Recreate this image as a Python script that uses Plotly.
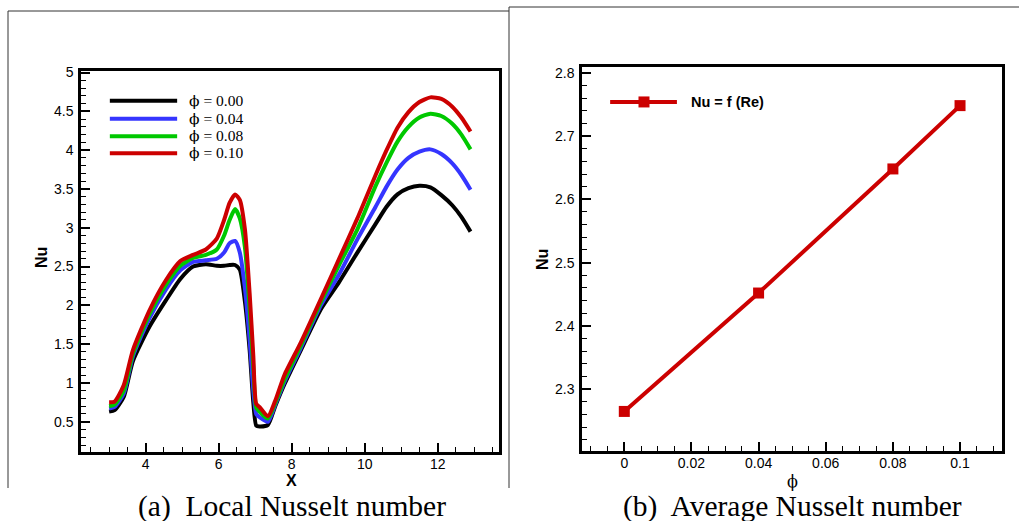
import plotly.graph_objects as go

# local Nusselt number along the wall
x_pos = [3.0, 3.15, 3.4, 3.65, 4.1, 4.55, 4.95, 5.3, 5.65, 5.95, 6.15, 6.3, 6.45, 6.58,
         6.72, 6.85, 6.95, 7.03, 7.12, 7.35, 7.55, 7.8, 8.25, 8.8, 9.3, 9.8,
         10.3, 10.6, 10.9, 11.2, 11.5, 11.8, 12.1, 12.4, 12.65, 12.9]
nu_000 = [0.63, 0.65, 0.82, 1.28, 1.72, 2.06, 2.34, 2.50, 2.53, 2.51, 2.51, 2.52, 2.52, 2.46,
          2.05, 1.42, 0.75, 0.45, 0.44, 0.46, 0.70, 0.98, 1.42, 1.95, 2.30, 2.68,
          3.05, 3.27, 3.43, 3.51, 3.54, 3.52, 3.42, 3.29, 3.14, 2.95]
nu_004 = [0.67, 0.69, 0.86, 1.34, 1.83, 2.20, 2.45, 2.56, 2.58, 2.60, 2.68, 2.80, 2.83, 2.68,
          2.22, 1.55, 0.90, 0.60, 0.56, 0.50, 0.72, 1.01, 1.45, 2.00, 2.40, 2.85,
          3.27, 3.53, 3.75, 3.90, 3.98, 4.01, 3.95, 3.83, 3.68, 3.49]
nu_008 = [0.70, 0.72, 0.90, 1.37, 1.88, 2.26, 2.51, 2.61, 2.65, 2.72, 2.90, 3.10, 3.24, 3.12,
          2.75, 1.95, 1.20, 0.68, 0.63, 0.54, 0.74, 1.04, 1.48, 2.04, 2.52, 2.98,
          3.54, 3.84, 4.11, 4.30, 4.42, 4.47, 4.44, 4.34, 4.20, 4.01]
nu_010 = [0.75, 0.76, 0.97, 1.42, 1.93, 2.32, 2.57, 2.65, 2.72, 2.86, 3.10, 3.32, 3.43, 3.36,
          2.98, 2.15, 1.35, 0.73, 0.69, 0.57, 0.77, 1.10, 1.52, 2.08, 2.60, 3.12,
          3.68, 4.00, 4.29, 4.49, 4.62, 4.68, 4.66, 4.56, 4.42, 4.24]
local_names = ["ϕ = 0.00", "ϕ = 0.04", "ϕ = 0.08", "ϕ = 0.10"]
local_colors = ["#000000", "#3535ff", "#00c800", "#cc0000"]

# average Nusselt number vs volume fraction
phi = [0.0, 0.04, 0.08, 0.1]
nu_avg = [2.265, 2.452, 2.648, 2.748]
avg_name = "Nu = f (Re)"

W, H = 1019, 521
SANS = "Liberation Sans, Arial"
SERIF = "Liberation Serif, Times New Roman"
PHI_FONT = "DejaVu Serif"


def px_x(p):
    return p / W


def px_y(p):
    return (H - p) / H


def phi_text(s):
    # the stroked phi glyph comes from DejaVu, the rest stays in the Times-like face
    return s.replace("ϕ", '<span style="font-family:%s">ϕ</span>' % PHI_FONT)


def create_figure():
    fig = go.Figure()
    fig.update_layout(width=W, height=H, margin=dict(l=0, r=0, t=0, b=0),
                      paper_bgcolor="white", plot_bgcolor="white",
                      showlegend=False, template="none",
                      font=dict(family=SANS, size=14, color="black"))
    axis_style = dict(showline=True, mirror=True, linecolor="black", linewidth=2.5,
                      ticks="inside", ticklen=9, tickwidth=1.5, tickcolor="black",
                      showgrid=False, zeroline=False, automargin=False,
                      tickfont=dict(family=SANS, size=14, color="black"))
    fig.update_layout(
        xaxis=dict(axis_style, domain=[px_x(81), px_x(499)], range=[2.23, 13.68],
                   dtick=2, tick0=0, anchor="y", ticklabelstandoff=-3,
                   minor=dict(ticks="inside", ticklen=5, tickwidth=1, dtick=0.5, tickcolor="black")),
        yaxis=dict(axis_style, domain=[px_y(452), px_y(71)], range=[0.11, 5.02],
                   dtick=0.5, tick0=0, anchor="x", ticklabelstandoff=2,
                   minor=dict(ticks="inside", ticklen=5, tickwidth=1, dtick=0.1, tickcolor="black")),
        xaxis2=dict(axis_style, domain=[px_x(582), px_x(1002)], range=[-0.0126, 0.1125],
                    dtick=0.02, tick0=0, anchor="y2", ticklabelstandoff=-3,
                    minor=dict(ticks="inside", ticklen=5, tickwidth=1, dtick=0.005, tickcolor="black")),
        yaxis2=dict(axis_style, domain=[px_y(451), px_y(67)], range=[2.2025, 2.809],
                    dtick=0.1, tick0=0, anchor="x2", ticklabelstandoff=2,
                    minor=dict(ticks="inside", ticklen=5, tickwidth=1, dtick=0.02, tickcolor="black")),
    )
    return fig


def plot_local(fig):
    for ys, name, col in zip([nu_000, nu_004, nu_008, nu_010], local_names, local_colors):
        fig.add_trace(go.Scatter(x=x_pos, y=ys, name=name, mode="lines",
                                 line=dict(color=col, width=4, shape="spline", smoothing=0.6),
                                 xaxis="x", yaxis="y"))
    # legend drawn by hand to get the long line samples
    ys_leg = [0.922, 0.875, 0.829, 0.784]
    for yl, name, col in zip(ys_leg, local_names, local_colors):
        fig.add_shape(type="line", xref="x domain", yref="y domain",
                      x0=0.069, x1=0.230, y0=yl, y1=yl, line=dict(color=col, width=4))
        fig.add_annotation(xref="x domain", yref="y domain", x=0.254, y=yl, text=phi_text(name),
                           showarrow=False, xanchor="left", yanchor="middle",
                           font=dict(family=SERIF, size=15.5, color="black"))


def plot_avg(fig):
    fig.add_trace(go.Scatter(x=phi, y=nu_avg, name=avg_name, mode="lines+markers",
                             line=dict(color="#cc0000", width=4),
                             marker=dict(symbol="square", size=11, color="#cc0000"),
                             xaxis="x2", yaxis="y2"))
    fig.add_shape(type="line", xref="x2 domain", yref="y2 domain",
                  x0=0.067, x1=0.226, y0=0.909, y1=0.909, line=dict(color="#cc0000", width=4))
    fig.add_shape(type="rect", xref="x2 domain", yref="y2 domain",
                  xsizemode="pixel", ysizemode="pixel", xanchor=0.1476, yanchor=0.909,
                  x0=-5.5, x1=5.5, y0=-5.5, y1=5.5,
                  fillcolor="#cc0000", line=dict(width=0))
    fig.add_annotation(xref="x2 domain", yref="y2 domain", x=0.2548, y=0.909,
                       text="<b>" + avg_name + "</b>", showarrow=False,
                       xanchor="left", yanchor="middle",
                       font=dict(family=SANS, size=14.5, color="black"))


def label(fig, x, y, text, font, angle=0):
    fig.add_annotation(xref="paper", yref="paper", x=px_x(x), y=px_y(y), text=text,
                       textangle=angle, showarrow=False, xanchor="center", yanchor="middle",
                       font=font)


def touch_up(fig):
    # frames around the two sub-figures
    frame = dict(color="#333333", width=1)
    for x0, y0, x1, y1 in [(8, 11, 509, 11), (8, 11, 8, 488), (509, 7, 509, 488), (509, 7, 1019, 7)]:
        fig.add_shape(type="line", xref="paper", yref="paper",
                      x0=px_x(x0), y0=px_y(y0), x1=px_x(x1), y1=px_y(y1), line=frame)
    # axis titles
    label(fig, 41, 258, "<b>Nu</b>", dict(family=SANS, size=16), angle=-90)
    label(fig, 542, 260, "<b>Nu</b>", dict(family=SANS, size=16), angle=-90)
    label(fig, 291, 480, "<b>X</b>", dict(family=SANS, size=16))
    label(fig, 792, 481, "ϕ", dict(family=PHI_FONT, size=16))
    # captions
    label(fig, 292, 506, "(a)  Local Nusselt number", dict(family=SERIF, size=29.5))
    label(fig, 792, 506, "(b)  Average Nusselt number", dict(family=SERIF, size=29.5))


def main():
    fig = create_figure()
    plot_local(fig)
    plot_avg(fig)
    touch_up(fig)
    # drop the page's default body margin so the figure sits at the window origin
    fig.write_html("out.html", config={"displayModeBar": False},
                   post_script="document.body.style.margin='0px';")


main()
